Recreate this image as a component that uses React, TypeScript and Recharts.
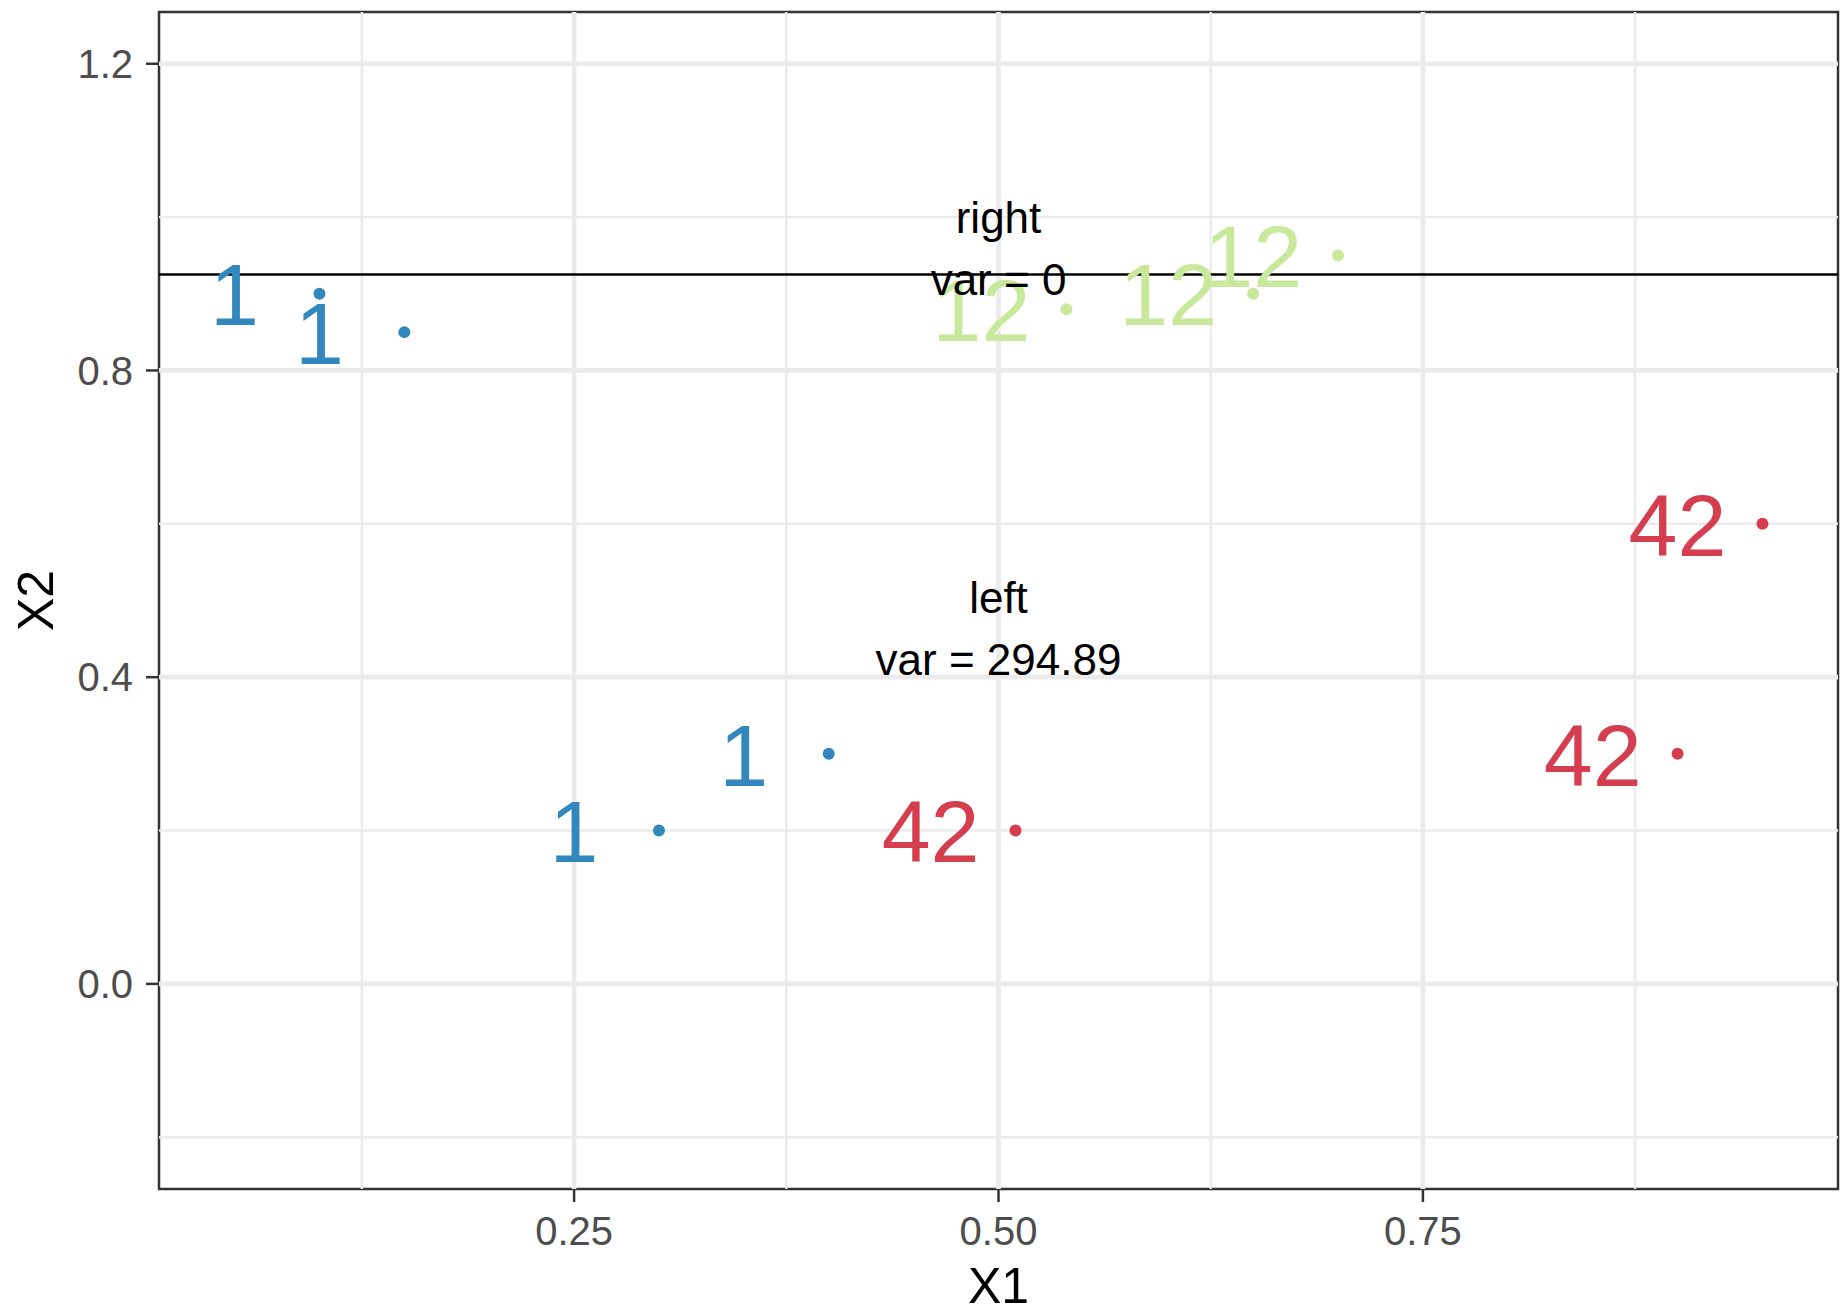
import React from "react"
import {
  ScatterChart,
  Scatter,
  XAxis,
  YAxis,
  ReferenceLine,
  ReferenceArea,
  ReferenceDot,
} from "recharts"

// groups of points (label shown next to each point)
const groupNames = ["1", "12", "42"]
const groupColors = ["#3288BD", "#C8E89B", "#D53E4F"]
const blueX = [0.1, 0.15, 0.3, 0.4]
const blueY = [0.9, 0.85, 0.2, 0.3]
const greenX = [0.54, 0.65, 0.7]
const greenY = [0.88, 0.9, 0.95]
const redX = [0.51, 0.9, 0.95]
const redY = [0.2, 0.3, 0.6]

// text labels sit a bit to the left of the points
const labelNudgeX = -0.05

// split line and the two annotations
const splitY = 0.925
const annotX = [0.5, 0.5]
const annotY = [0.96, 0.4645]
const annotText = [
  ["right", "var = 0"],
  ["left", "var = 294.89"],
]

const xDomain = [0.0055, 0.9945]
const yDomain = [-0.2675, 1.2675]
const xTicks = [0.25, 0.5, 0.75]
const xMinor = [0.125, 0.375, 0.625, 0.875]
const yTicks = [0, 0.4, 0.8, 1.2]
const yMinor = [-0.2, 0.2, 0.6, 1.0]

const FONT = '"Liberation Sans", Arial, Helvetica, sans-serif'
const GRID = "#EBEBEB"

const groups = [
  { xs: blueX, ys: blueY },
  { xs: greenX, ys: greenY },
  { xs: redX, ys: redY },
].map((g, i) => ({
  name: groupNames[i],
  color: groupColors[i],
  points: g.xs.map((x, j) => ({ x, y: g.ys[j] })),
  labels: g.xs.map((x, j) => ({ x: x + labelNudgeX, y: g.ys[j], label: groupNames[i] })),
}))

const dotShape = (color: string) => (props: any) =>
  <circle cx={props.cx} cy={props.cy} r={6} fill={color} />

const textShape = (color: string) => (props: any) => (
  <text
    x={props.cx}
    y={props.cy}
    dy="0.36em"
    textAnchor="middle"
    fontSize={88}
    fill={color}
    style={{ fontFamily: FONT }}
  >
    {props.payload.label}
  </text>
)

const annotShape = (lines: string[]) => (props: any) => (
  <text
    x={props.cx}
    y={props.cy}
    textAnchor="middle"
    fontSize={44}
    fill="#000"
    style={{ fontFamily: FONT }}
  >
    <tspan x={props.cx} dy="-0.345em">{lines[0]}</tspan>
    <tspan x={props.cx} dy="1.41em">{lines[1]}</tspan>
  </text>
)

const YTitle = (props: any) => {
  const vb = props.viewBox
  const cx = 35
  const cy = vb.y + vb.height / 2
  return (
    <text
      x={cx}
      y={cy}
      dy="0.36em"
      textAnchor="middle"
      fontSize={50}
      fill="#000"
      transform={`rotate(-90, ${cx}, ${cy})`}
      style={{ fontFamily: FONT }}
    >
      X2
    </text>
  )
}

export default function App() {
  return (
    <div style={{ position: "absolute", left: 0, top: 0, background: "#fff" }}>
      <ScatterChart
        width={1842}
        height={1312}
        margin={{ top: 12, right: 4, bottom: 0, left: 0 }}
        style={{ fontFamily: FONT }}
      >
        <XAxis
          type="number"
          dataKey="x"
          domain={xDomain}
          ticks={xTicks}
          allowDataOverflow
          tickFormatter={(v: number) => v.toFixed(2)}
          height={123}
          axisLine={false}
          tickLine={{ stroke: "#333333", strokeWidth: 2.5 }}
          tickSize={13}
          tickMargin={15}
          tick={{ fill: "#4D4D4D", fontSize: 40 }}
          label={{ value: "X1", position: "insideBottom", offset: 9, fontSize: 50, fill: "#000" }}
        />
        <YAxis
          type="number"
          dataKey="y"
          domain={yDomain}
          ticks={yTicks}
          allowDataOverflow
          tickFormatter={(v: number) => v.toFixed(1)}
          width={159}
          axisLine={false}
          tickLine={{ stroke: "#333333", strokeWidth: 2.5 }}
          tickSize={13}
          tickMargin={13}
          tick={{ fill: "#4D4D4D", fontSize: 40 }}
          label={<YTitle />}
        />

        {yMinor.map((v) => (
          <ReferenceLine key={"ym" + v} y={v} stroke={GRID} strokeWidth={2.4} />
        ))}
        {xMinor.map((v) => (
          <ReferenceLine key={"xm" + v} x={v} stroke={GRID} strokeWidth={2.4} />
        ))}
        {yTicks.map((v) => (
          <ReferenceLine key={"yM" + v} y={v} stroke={GRID} strokeWidth={4.7} />
        ))}
        {xTicks.map((v) => (
          <ReferenceLine key={"xM" + v} x={v} stroke={GRID} strokeWidth={4.7} />
        ))}

        {groups.map((g) => (
          <Scatter
            key={"p" + g.name}
            data={g.points}
            shape={dotShape(g.color)}
            isAnimationActive={false}
          />
        ))}
        {groups.map((g) => (
          <Scatter
            key={"t" + g.name}
            data={g.labels}
            shape={textShape(g.color)}
            isAnimationActive={false}
          />
        ))}

        <ReferenceLine y={splitY} stroke="#000" strokeWidth={2.5} />

        {annotText.map((lines, i) => (
          <ReferenceDot
            key={"a" + i}
            x={annotX[i]}
            y={annotY[i]}
            shape={annotShape(lines)}
          />
        ))}

        <ReferenceArea
          x1={xDomain[0]}
          x2={xDomain[1]}
          y1={yDomain[0]}
          y2={yDomain[1]}
          fill="none"
          fillOpacity={0}
          stroke="#333333"
          strokeWidth={2.5}
        />
      </ScatterChart>
    </div>
  )
}
